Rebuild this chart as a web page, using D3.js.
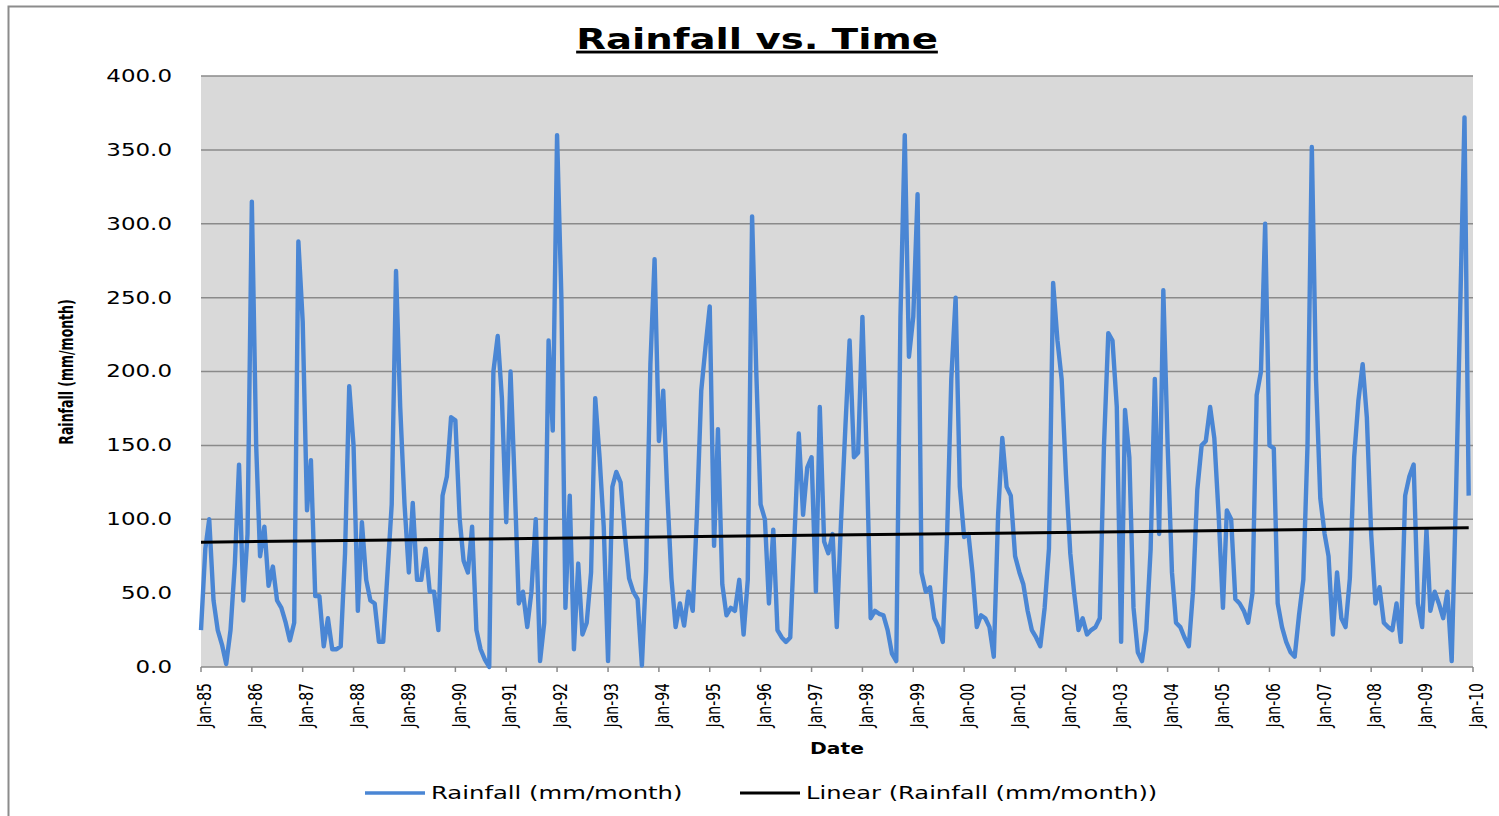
<!DOCTYPE html>
<html>
<head>
<meta charset="utf-8">
<script src="https://cdn.jsdelivr.net/npm/d3@7"></script>
<style>
  html, body { margin: 0; padding: 0; background: #ffffff; }
  svg { display: block; }
</style>
</head>
<body>
<div id="chart"></div>
<script>
// ---------------- DATA ----------------
const startYear = 1985;
const endYear = 2010;
// Monthly rainfall (mm/month), one row per year, Jan..Dec
const rain1985 = [25, 80, 100, 45, 25, 15, 2, 25, 70, 137, 45, 90];
const rain1986 = [315, 150, 75, 95, 55, 68, 45, 40, 30, 18, 30, 288];
const rain1987 = [234, 106, 140, 48, 48, 14, 33, 12, 12, 14, 77, 190];
const rain1988 = [150, 38, 98, 59, 45, 43, 17, 17, 64, 110, 268, 176];
const rain1989 = [110, 64, 111, 59, 59, 80, 51, 51, 25, 116, 129, 169];
const rain1990 = [167, 100, 72, 64, 95, 25, 12, 5, 0, 200, 224, 182];
const rain1991 = [98, 200, 129, 43, 51, 27, 51, 100, 4, 30, 221, 160];
const rain1992 = [360, 250, 40, 116, 12, 70, 22, 30, 64, 182, 142, 95];
const rain1993 = [4, 122, 132, 125, 90, 60, 51, 46, 1, 65, 205, 276];
const rain1994 = [153, 187, 120, 60, 27, 43, 28, 51, 38, 103, 187, 216];
const rain1995 = [244, 82, 161, 56, 35, 40, 38, 59, 22, 59, 305, 200];
const rain1996 = [110, 100, 43, 93, 25, 20, 17, 20, 90, 158, 103, 135];
const rain1997 = [142, 51, 176, 85, 77, 90, 27, 100, 163, 221, 142, 145];
const rain1998 = [237, 142, 33, 38, 36, 35, 25, 9, 4, 237, 360, 210];
const rain1999 = [237, 320, 64, 51, 54, 33, 27, 17, 90, 195, 250, 122];
const rain2000 = [88, 90, 64, 27, 35, 33, 27, 7, 103, 155, 122, 116];
const rain2001 = [75, 64, 56, 38, 25, 20, 14, 40, 80, 260, 221, 195];
const rain2002 = [130, 77, 50, 25, 33, 22, 25, 27, 33, 150, 226, 221];
const rain2003 = [176, 17, 174, 142, 40, 10, 4, 25, 80, 195, 90, 255];
const rain2004 = [150, 64, 30, 27, 20, 14, 51, 120, 150, 153, 176, 155];
const rain2005 = [103, 40, 106, 100, 46, 43, 38, 30, 50, 184, 200, 300];
const rain2006 = [150, 148, 43, 27, 17, 10, 7, 35, 59, 150, 352, 195];
const rain2007 = [114, 90, 75, 22, 64, 33, 27, 60, 142, 180, 205, 169];
const rain2008 = [90, 43, 54, 30, 27, 25, 43, 17, 116, 129, 137, 43];
const rain2009 = [27, 93, 38, 51, 43, 33, 51, 4, 116, 242, 372, 116];
// Linear trendline values at first and last month
const trendValues = [84.5, 94.2];
const yTicks = [0, 50, 100, 150, 200, 250, 300, 350, 400];

const title = "Rainfall vs. Time";
const yTitle = "Rainfall (mm/month)";
const xTitle = "Date";
const seriesName = "Rainfall (mm/month)";
const trendName = "Linear (Rainfall (mm/month))";

const years = [rain1985, rain1986, rain1987, rain1988, rain1989, rain1990, rain1991,
  rain1992, rain1993, rain1994, rain1995, rain1996, rain1997, rain1998, rain1999,
  rain2000, rain2001, rain2002, rain2003, rain2004, rain2005, rain2006, rain2007,
  rain2008, rain2009];
const data = [];
years.forEach((arr, yi) => arr.forEach((v, m) => data.push({date: new Date(startYear + yi, m, 1), value: v})));

// ---------------- LAYOUT ----------------
const W = 1499, H = 816;
const plot = {left: 201, right: 1473, top: 76, bottom: 667};
const SX = 1.35; // horizontal stretch of the glyphs in the reference

const svg = d3.select("#chart").append("svg").attr("width", W).attr("height", H);

// chart frame
svg.append("rect").attr("x", 8.5).attr("y", 6.5).attr("width", W + 20).attr("height", H + 20)
  .attr("fill", "#ffffff").attr("stroke", "#8c8c8c").attr("stroke-width", 2);

const x = d3.scaleTime().domain([new Date(startYear, 0, 1), new Date(endYear, 0, 1)])
  .range([plot.left, plot.right]);
const y = d3.scaleLinear().domain([0, 400]).range([plot.bottom, plot.top]);

// plot background
svg.append("rect").attr("x", plot.left).attr("y", plot.top)
  .attr("width", plot.right - plot.left).attr("height", plot.bottom - plot.top)
  .attr("fill", "#d9d9d9");

// gridlines
svg.append("g").selectAll("line").data(yTicks).join("line")
  .attr("x1", plot.left).attr("x2", plot.right)
  .attr("y1", d => y(d)).attr("y2", d => y(d))
  .attr("stroke", "#8a8a8a").attr("stroke-width", 1.5);

function stext(parent, px, py, str, opt) {
  const o = Object.assign({size: 16, weight: "normal", anchor: "middle", sx: SX, rotate: 0, baseline: "alphabetic"}, opt);
  return parent.append("text")
    .attr("transform", `translate(${px},${py}) scale(${o.sx},1) rotate(${o.rotate})`)
    .attr("text-anchor", o.anchor)
    .attr("dominant-baseline", o.baseline)
    .style("font-family", "'DejaVu Sans', Verdana, sans-serif")
    .style("font-size", o.size + "px")
    .style("font-weight", o.weight)
    .attr("fill", "#000")
    .text(str);
}

// Y axis labels
const yFmt = d3.format(".1f");
const gy = svg.append("g");
yTicks.forEach(t => stext(gy, 172, y(t), yFmt(t), {size: 17, anchor: "end", baseline: "central"}));

// X axis ticks + labels
const xTicks = x.ticks(d3.timeYear.every(1));
const xFmt = d3.timeFormat("%b-%y");
const gx = svg.append("g");
gx.selectAll("line").data(xTicks).join("line")
  .attr("x1", d => x(d)).attr("x2", d => x(d))
  .attr("y1", plot.bottom).attr("y2", plot.bottom + 5)
  .attr("stroke", "#8a8a8a").attr("stroke-width", 1.5);
xTicks.forEach(t => stext(gx, x(t) + 4, plot.bottom + 16, xFmt(t), {size: 14, anchor: "end", baseline: "central", rotate: -90}));

// rainfall line
const line = d3.line().x(d => x(d.date)).y(d => y(d.value)).curve(d3.curveLinear);
svg.append("path").datum(data).attr("d", line)
  .attr("fill", "none").attr("stroke", "#4a86d4").attr("stroke-width", 4.4)
  .attr("stroke-linejoin", "round");

// linear trend
const trend = [{date: data[0].date, value: trendValues[0]}, {date: data[data.length - 1].date, value: trendValues[1]}];
svg.append("path").datum(trend).attr("d", line)
  .attr("fill", "none").attr("stroke", "#000").attr("stroke-width", 3);

// titles
stext(svg, 757, 49, title, {size: 28, weight: "bold", sx: 1.38}).style("text-decoration", "underline");
stext(svg, 837, 754, xTitle, {size: 15, weight: "bold"});
stext(svg, 67, 372, yTitle, {size: 12.5, weight: "bold", sx: 1.5, rotate: -90, baseline: "central"});

// legend
const lg = svg.append("g");
lg.append("line").attr("x1", 365).attr("x2", 425).attr("y1", 793).attr("y2", 793)
  .attr("stroke", "#4a86d4").attr("stroke-width", 3.6);
stext(lg, 431, 793, seriesName, {size: 17.5, anchor: "start", baseline: "central", sx: 1.39});
lg.append("line").attr("x1", 740).attr("x2", 800).attr("y1", 793).attr("y2", 793)
  .attr("stroke", "#000").attr("stroke-width", 3);
stext(lg, 806, 793, trendName, {size: 17.5, anchor: "start", baseline: "central", sx: 1.38});
</script>
</body>
</html>
